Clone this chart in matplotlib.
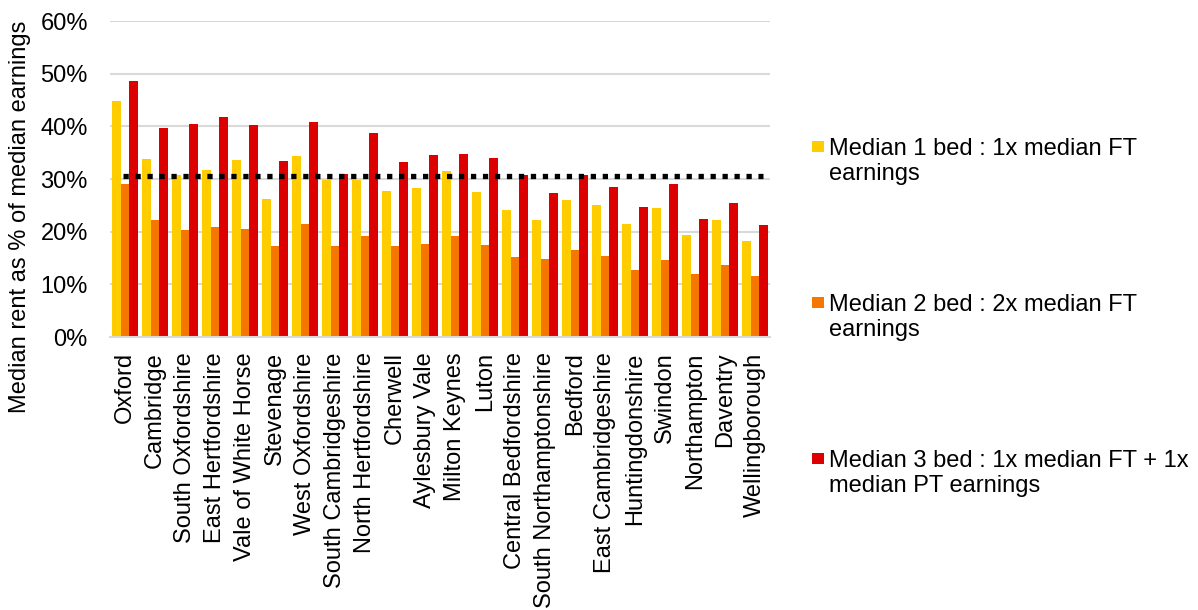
import matplotlib
matplotlib.use("Agg")
import matplotlib.pyplot as plt
import numpy as np
from matplotlib.patches import Rectangle

plt.rcParams['font.family'] = ['Liberation Sans', 'DejaVu Sans']

# Local authorities, sorted as in the source chart
areas = ['Oxford', 'Cambridge', 'South Oxfordshire', 'East Hertfordshire',
         'Vale of White Horse', 'Stevenage', 'West Oxfordshire',
         'South Cambridgeshire', 'North Hertfordshire', 'Cherwell',
         'Aylesbury Vale', 'Milton Keynes', 'Luton', 'Central Bedfordshire',
         'South Northamptonshire', 'Bedford', 'East Cambridgeshire',
         'Huntingdonshire', 'Swindon', 'Northampton', 'Daventry',
         'Wellingborough']

# Median rent as % of median earnings
one_bed = [44.9, 33.8, 30.8, 31.7, 33.7, 26.2, 34.3, 29.8, 29.9, 27.7, 28.2,
           31.5, 27.5, 24.1, 22.3, 26.1, 25.1, 21.5, 24.4, 19.4, 22.3, 18.3]
two_bed = [29.1, 22.3, 20.3, 20.8, 20.6, 17.2, 21.5, 17.3, 19.1, 17.2, 17.7,
           19.1, 17.5, 15.2, 14.8, 16.6, 15.3, 12.8, 14.7, 12.0, 13.7, 11.6]
three_bed = [48.6, 39.7, 40.4, 41.8, 40.2, 33.5, 40.8, 30.9, 38.7, 33.2, 34.5,
             34.7, 33.9, 30.7, 27.4, 30.7, 28.4, 24.6, 29.1, 22.4, 25.4, 21.3]
threshold = 30.6

labels = ['Median 1 bed : 1x median FT\nearnings',
          'Median 2 bed : 2x median FT\nearnings',
          'Median 3 bed : 1x median FT + 1x\nmedian PT earnings']
colors = ['#FFCC00', '#F57600', '#DD0000']

fig = plt.figure(figsize=(11.98, 6.10), dpi=100)
ax = fig.add_axes([110 / 1198, 1 - 337 / 610, 660 / 1198, 316 / 610])

x = np.arange(len(areas))
w = 0.29
for off, vals, c in zip([-w, 0, w], [one_bed, two_bed, three_bed], colors):
    ax.bar(x + off, vals, width=w, color=c, zorder=2)

# dotted threshold line
ax.plot([x[0] - 0.06, x[-1] + 0.25], [threshold, threshold], color='black',
        linewidth=3.8, linestyle=(0, (1, 1.27)), dash_capstyle='butt', zorder=3)

ax.set_xlim(-0.5, len(areas) - 0.5)
ax.set_ylim(0, 60)
ax.set_yticks(np.arange(0, 61, 10))
ax.set_yticklabels([f'{v}%' for v in range(0, 61, 10)])
ax.yaxis.grid(True, color='#D9D9D9', linewidth=1.5, zorder=0)
ax.set_axisbelow(True)
for s in ['top', 'right', 'left']:
    ax.spines[s].set_visible(False)
ax.spines['bottom'].set_color('#D9D9D9')
ax.spines['bottom'].set_linewidth(1.5)

ax.set_xticks(x)
ax.set_xticklabels(areas, rotation=90)
ax.tick_params(axis='both', length=0, labelsize=17, colors='black')
ax.tick_params(axis='y', pad=16)
ax.tick_params(axis='x', pad=11)

fig.text(20 / 1198, 1 - 217 / 610, 'Median rent as % of median earnings',
         rotation=90, ha='center', va='center', fontsize=17)

# legend drawn by hand: square marker beside the first line of each entry
for i, (lab, c) in enumerate(zip(labels, colors)):
    y0 = 155 + i * 156
    fig.text(829 / 1198, 1 - (y0 - 17) / 610, lab, fontsize=17,
             ha='left', va='top', linespacing=1.15)
    fig.add_artist(Rectangle((812 / 1198, 1 - (y0 - 3) / 610), 12 / 1198,
                             11 / 610, transform=fig.transFigure,
                             facecolor=c, edgecolor='none'))

fig.savefig('out.png', dpi=100)
